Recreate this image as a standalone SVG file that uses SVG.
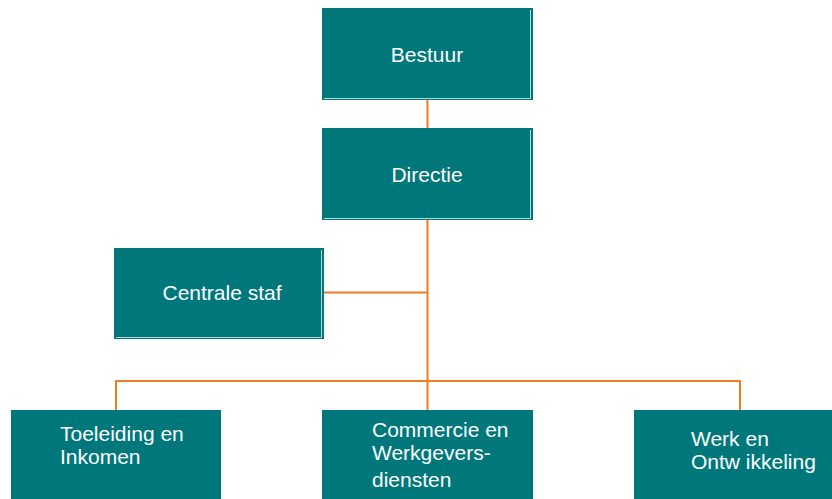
<svg xmlns="http://www.w3.org/2000/svg" width="832" height="499" viewBox="0 0 832 499">
<style>
.box{fill:#00787B}
.edge{stroke:#FFFFFF;stroke-width:1;opacity:0.7;fill:none}
.lbl{font-family:"Liberation Sans",Arial,sans-serif;font-size:21px;fill:#FFFFFF}
.c{text-anchor:middle}
.conn{stroke:#F07D22;stroke-width:2;fill:none}
</style>
<rect width="832" height="499" fill="#FFFFFF"/>
<g id="connectors">
<line class="conn" x1="427.5" y1="100" x2="427.5" y2="410"/>
<line class="conn" x1="324" y1="292.5" x2="427.5" y2="292.5"/>
<polyline class="conn" points="116,410 116,381 740,381 740,410"/>
</g>
<g id="bestuur">
<rect class="box" x="322" y="8" width="211" height="92"/>
<polyline class="edge" points="530.5,10 530.5,98.5 324,98.5"/>
<text class="lbl c" x="427" y="62">Bestuur</text>
</g>
<g id="directie">
<rect class="box" x="322" y="128" width="211" height="92"/>
<polyline class="edge" points="530.5,130 530.5,218.5 324,218.5"/>
<text class="lbl c" x="427" y="182">Directie</text>
</g>
<g id="centrale-staf">
<rect class="box" x="114" y="248" width="210" height="91"/>
<polyline class="edge" points="321.5,250 321.5,337.5 116,337.5"/>
<text class="lbl c" x="222" y="300">Centrale staf</text>
</g>
<g id="toeleiding">
<rect class="box" x="11" y="410" width="210" height="89"/>
<text class="lbl" x="60" y="441">Toeleiding en</text>
<text class="lbl" x="60" y="464">Inkomen</text>
</g>
<g id="commercie">
<rect class="box" x="322" y="410" width="211" height="89"/>
<text class="lbl" x="372" y="437">Commercie en</text>
<text class="lbl" x="372" y="460">Werkgevers-</text>
<text class="lbl" x="372" y="487">diensten</text>
</g>
<g id="werk">
<rect class="box" x="634" y="410" width="198" height="89"/>
<text class="lbl" x="691" y="446">Werk en</text>
<text class="lbl" x="691" y="469">Ontw ikkeling</text>
</g>
</svg>
